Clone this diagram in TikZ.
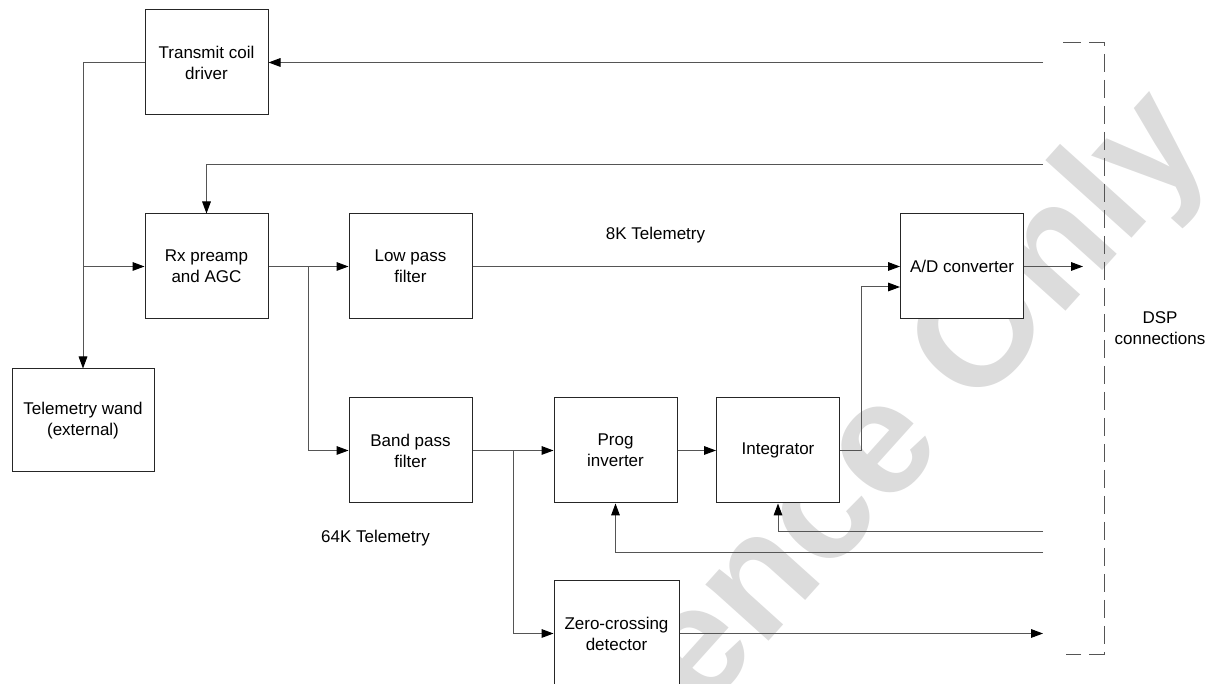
\documentclass[tikz,border=0pt]{standalone}
\usepackage{fontspec}
\setmainfont{Liberation Sans}
\usepackage{tikz}
\usetikzlibrary{arrows.meta, positioning, calc}
\definecolor{linegray}{HTML}{555555}
\definecolor{boxgray}{HTML}{262626}
\definecolor{markgray}{HTML}{DCDCDC}

\begin{document}
\begin{tikzpicture}[x=0.75pt, y=0.75pt, >={Triangle[length=9pt,width=6.5pt,black]},
  font=\fontsize{12.75}{15.75}\selectfont,
  block/.style={rectangle, draw=boxgray, fill=white, line width=0.75pt, minimum width=92.25pt, minimum height=78.75pt, align=center, inner sep=2pt},
  tag/.style={align=center, inner sep=1pt},
  conn/.style={draw=linegray, line width=0.75pt},
  dsp/.style={draw=linegray, line width=0.75pt, dash pattern=on 13.5pt off 6pt},
  watermark/.style={text=markgray, font=\fontsize{120}{130}\selectfont\bfseries}]

  \useasboundingbox (0,0) rectangle (1211,684);
  \begin{scope}
    \clip (0,0) rectangle (1211,684);
    \node [watermark, rotate=48] (wm) at (790,128) {Reference Only};
  \end{scope}

  \node [block] (tx) at (206.5,621.5) {Transmit coil\\driver};
  \node [block] (rx) at (206.5,417.5) {Rx preamp\\and AGC};
  \node [block] (lpf) at (410.5,417.5) {Low pass\\filter};
  \node [block] (adc) at (962,417.5) {A/D converter};
  \node [block] (bpf) at (410.5,233.5) {Band pass\\filter};
  \node [block] (prog) at (615.5,233.5) {Prog\\inverter};
  \node [block] (integ) at (778,233.5) {Integrator};
  \node [block, minimum width=93.75pt] (zcd) at (616.5,50.5) {Zero-crossing\\detector};
  \node [block, minimum width=106.5pt, minimum height=77.25pt] (wand) at (83,263.5) {Telemetry wand\\(external)};

  \node [tag] (k8) at (655.5,449) {8K Telemetry};
  \node [tag] (k64) at (375.5,146) {64K Telemetry};
  \node [tag] (dsplabel) at (1160,356) {DSP\\connections};

  \coordinate (d1) at (1043,621.5);
  \coordinate (d2) at (1043,519);
  \coordinate (d3) at (1043,152);
  \coordinate (d4) at (1043,131);
  \coordinate (d5) at (1043,50.5);
  \coordinate (d6) at (1083,417.5);
  \coordinate (s1) at (308,417.5);
  \coordinate (s2) at (513,233.5);

  \draw [dsp] (1063,641) -- (1104,641) -- (1104,29) -- (1066,29);

  \draw [conn, ->] (d1) -- (tx.east);
  \draw [conn, ->] (d2) -| (rx.north);
  \draw [conn, ->] (tx.west) -| (wand.north);
  \draw [conn, ->] (wand.north |- rx.west) -- (rx.west);
  \draw [conn, ->] (rx) -- (lpf);
  \draw [conn, ->] (s1) |- (bpf.west);
  \draw [conn, ->] (lpf) -- (adc);
  \draw [conn, ->] (adc) -- (d6);
  \draw [conn, ->] (bpf) -- (prog);
  \draw [conn, ->] (s2) |- (zcd.west);
  \draw [conn, ->] (prog) -- (integ);
  \draw [conn, ->] (integ.east) -- ++(21,0) |- ($(adc.west)+(0,-20.5)$);
  \draw [conn, ->] (d3) -| (integ.south);
  \draw [conn, ->] (d4) -| (prog.south);
  \draw [conn, ->] (zcd) -- (d5);
\end{tikzpicture}
\end{document}
